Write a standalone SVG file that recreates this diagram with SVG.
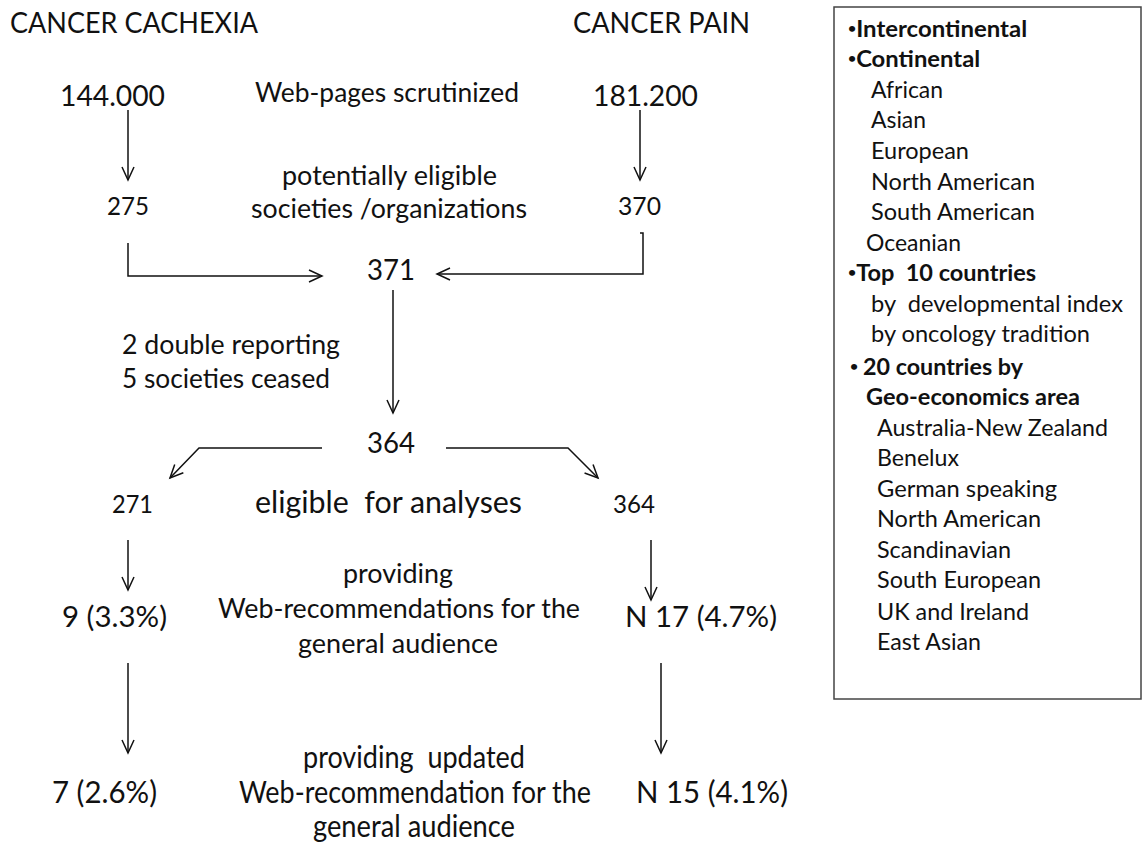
<svg xmlns="http://www.w3.org/2000/svg" width="1142" height="843" viewBox="0 0 1142 843">
<style>
text{font-family:Lato,"Open Sans","DejaVu Sans",sans-serif;fill:#111;white-space:pre}
.t{font-size:29px}
.m{font-size:26px}
.s{font-size:25px}
.b{font-size:30px}
.lg{font-size:22.5px}
.bd{font-weight:bold}
.bu{font-size:14px}
.c{fill:none;stroke:#111;stroke-width:1.5}
</style>
<defs>
<marker id="ah" viewBox="0 0 13 12" refX="13" refY="6" markerWidth="13" markerHeight="12" markerUnits="userSpaceOnUse" orient="auto" overflow="visible">
<path d="M0,0 L13,6 L0,12" fill="none" stroke="#111" stroke-width="1.5"/>
</marker>
</defs>
<rect width="1142" height="843" fill="#fff"/>
<g id="headers">
<text class="t" x="10" y="33" textLength="248" lengthAdjust="spacingAndGlyphs">CANCER CACHEXIA</text>
<text class="t" x="573" y="33" textLength="177" lengthAdjust="spacingAndGlyphs">CANCER PAIN</text>
</g>
<g id="n144000"><text class="t" x="60" y="106" textLength="105" lengthAdjust="spacingAndGlyphs">144.000</text></g>
<g id="lbl-web"><text class="m" x="255" y="102" textLength="264" lengthAdjust="spacingAndGlyphs">Web-pages scrutinized</text></g>
<g id="n181200"><text class="t" x="593" y="106" textLength="105" lengthAdjust="spacingAndGlyphs">181.200</text></g>
<g id="lbl-pot">
<text class="m" x="282" y="185" textLength="215" lengthAdjust="spacingAndGlyphs">potentially eligible</text>
<text class="m" x="251" y="218" textLength="276" lengthAdjust="spacingAndGlyphs">societies /organizations</text>
</g>
<g id="n275"><text class="s" x="107" y="215" textLength="42" lengthAdjust="spacingAndGlyphs">275</text></g>
<g id="n370"><text class="s" x="618" y="215" textLength="43" lengthAdjust="spacingAndGlyphs">370</text></g>
<g id="n371"><text class="t" x="367" y="280" textLength="48" lengthAdjust="spacingAndGlyphs">371</text></g>
<g id="lbl-excl">
<text class="m" x="122" y="354" textLength="218" lengthAdjust="spacingAndGlyphs">2 double reporting</text>
<text class="m" x="122" y="388" textLength="208" lengthAdjust="spacingAndGlyphs">5 societies ceased</text>
</g>
<g id="n364c"><text class="t" x="367" y="453" textLength="48" lengthAdjust="spacingAndGlyphs">364</text></g>
<g id="n271"><text class="s" x="112" y="513" textLength="41" lengthAdjust="spacingAndGlyphs">271</text></g>
<g id="lbl-elig"><text class="b" x="255" y="513" textLength="267" lengthAdjust="spacingAndGlyphs">eligible  for analyses</text></g>
<g id="n364r"><text class="s" x="613" y="513" textLength="42" lengthAdjust="spacingAndGlyphs">364</text></g>
<g id="lbl-prov">
<text class="m" x="343" y="583" textLength="110" lengthAdjust="spacingAndGlyphs">providing</text>
<text class="m" x="218" y="618" textLength="362" lengthAdjust="spacingAndGlyphs">Web-recommendations for the</text>
<text class="m" x="298" y="653" textLength="200" lengthAdjust="spacingAndGlyphs">general audience</text>
</g>
<g id="n9"><text class="t" x="62" y="627" textLength="105" lengthAdjust="spacingAndGlyphs">9 (3.3%)</text></g>
<g id="n17"><text class="t" x="625" y="627" textLength="152" lengthAdjust="spacingAndGlyphs">N 17 (4.7%)</text></g>
<g id="n7"><text class="b" x="52" y="803" textLength="105" lengthAdjust="spacingAndGlyphs">7 (2.6%)</text></g>
<g id="lbl-upd">
<text class="b" x="303" y="768" textLength="222" lengthAdjust="spacingAndGlyphs">providing  updated</text>
<text class="b" x="239" y="803" textLength="352" lengthAdjust="spacingAndGlyphs">Web-recommendation for the</text>
<text class="b" x="313" y="837" textLength="202" lengthAdjust="spacingAndGlyphs">general audience</text>
</g>
<g id="n15"><text class="b" x="636" y="803" textLength="152" lengthAdjust="spacingAndGlyphs">N 15 (4.1%)</text></g>
<g id="connectors">
<path class="c" d="M128,110 V180" marker-end="url(#ah)"/>
<path class="c" d="M640,110 V180" marker-end="url(#ah)"/>
<path class="c" d="M128,243 V276 H322" marker-end="url(#ah)"/>
<path class="c" d="M640,233 H643 V274 H437" marker-end="url(#ah)"/>
<path class="c" d="M393,290 V413" marker-end="url(#ah)"/>
<path class="c" d="M322,448 H199 L170,478" marker-end="url(#ah)"/>
<path class="c" d="M446,448 H568 L598,478" marker-end="url(#ah)"/>
<path class="c" d="M128,540 V590" marker-end="url(#ah)"/>
<path class="c" d="M651,540 V600" marker-end="url(#ah)"/>
<path class="c" d="M128,663 V753" marker-end="url(#ah)"/>
<path class="c" d="M661,663 V753" marker-end="url(#ah)"/>
</g>
<g id="legend">
<rect x="834" y="7" width="307" height="692" fill="none" stroke="#444" stroke-width="1.5"/>
<text class="lg bd" x="848" y="37"><tspan class="bu" dy="-4">•</tspan><tspan dy="4" textLength="171" lengthAdjust="spacingAndGlyphs">Intercontinental</tspan></text>
<text class="lg bd" x="848" y="67"><tspan class="bu" dy="-4">•</tspan><tspan dy="4" textLength="124" lengthAdjust="spacingAndGlyphs">Continental</tspan></text>
<text class="lg" x="871" y="98" textLength="72" lengthAdjust="spacingAndGlyphs">African</text>
<text class="lg" x="871" y="128" textLength="55" lengthAdjust="spacingAndGlyphs">Asian</text>
<text class="lg" x="871" y="159" textLength="98" lengthAdjust="spacingAndGlyphs">European</text>
<text class="lg" x="871" y="190" textLength="164" lengthAdjust="spacingAndGlyphs">North American</text>
<text class="lg" x="871" y="220" textLength="164" lengthAdjust="spacingAndGlyphs">South American</text>
<text class="lg" x="866" y="251" textLength="95" lengthAdjust="spacingAndGlyphs">Oceanian</text>
<text class="lg bd" x="848" y="281"><tspan class="bu" dy="-4">•</tspan><tspan dy="4" textLength="180" lengthAdjust="spacingAndGlyphs">Top  10 countries</tspan></text>
<text class="lg" x="871" y="312" textLength="252" lengthAdjust="spacingAndGlyphs">by  developmental index</text>
<text class="lg" x="871" y="342" textLength="219" lengthAdjust="spacingAndGlyphs">by oncology tradition</text>
<text class="lg bd" x="850" y="375"><tspan class="bu" dy="-4">•</tspan><tspan dy="4"> </tspan><tspan x="863" textLength="160" lengthAdjust="spacingAndGlyphs">20 countries by</tspan></text>
<text class="lg bd" x="866" y="405" textLength="214" lengthAdjust="spacingAndGlyphs">Geo-economics area</text>
<text class="lg" x="877" y="436" textLength="231" lengthAdjust="spacingAndGlyphs">Australia-New Zealand</text>
<text class="lg" x="877" y="466" textLength="82" lengthAdjust="spacingAndGlyphs">Benelux</text>
<text class="lg" x="877" y="497" textLength="180" lengthAdjust="spacingAndGlyphs">German speaking</text>
<text class="lg" x="877" y="527" textLength="164" lengthAdjust="spacingAndGlyphs">North American</text>
<text class="lg" x="877" y="558" textLength="134" lengthAdjust="spacingAndGlyphs">Scandinavian</text>
<text class="lg" x="877" y="588" textLength="164" lengthAdjust="spacingAndGlyphs">South European</text>
<text class="lg" x="877" y="620" textLength="152" lengthAdjust="spacingAndGlyphs">UK and Ireland</text>
<text class="lg" x="877" y="650" textLength="104" lengthAdjust="spacingAndGlyphs">East Asian</text>
</g>
</svg>
